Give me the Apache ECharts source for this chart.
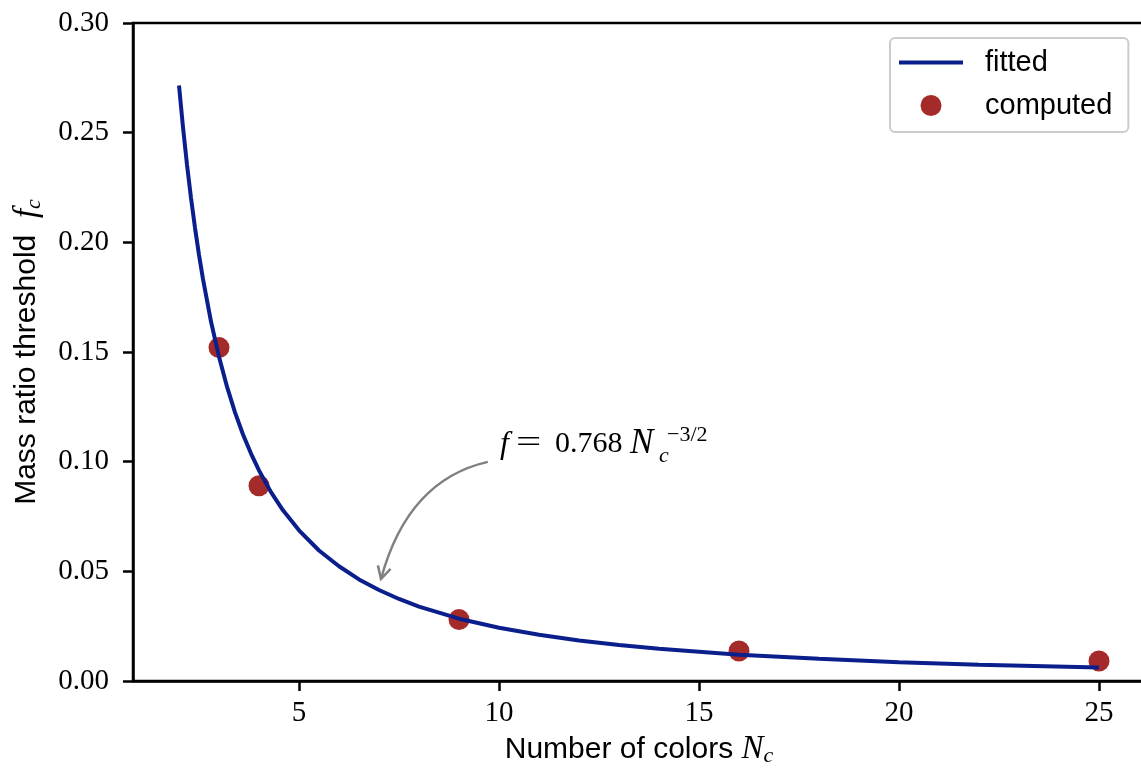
<!DOCTYPE html>
<html>
<head>
<meta charset="utf-8">
<script src="https://cdn.jsdelivr.net/npm/echarts@6.0.0/dist/echarts.min.js"></script>
<style>
    html, body { margin: 0; padding: 0; background: #fff; }
    #chart { width: 1141px; height: 769px; }
</style>
</head>
<body>
<div id="chart"></div>
<script>
// fitted curve
const fitN = [2, 2.1, 2.2, 2.3, 2.4, 2.5, 2.6, 2.8, 3, 3.2, 3.4, 3.6, 3.8, 4, 4.3, 4.6, 5, 5.5, 6, 6.5, 7, 7.5,
    8, 9, 10, 11, 12, 13, 14, 16, 18, 20, 22, 25];
const fitF = [0.2715, 0.2524, 0.2354, 0.2202, 0.2066, 0.1943, 0.1832, 0.1639, 0.1478, 0.1342, 0.1225, 0.1124,
    0.1037, 0.0960, 0.0861, 0.0778, 0.0687, 0.0595, 0.0523, 0.0463, 0.0415, 0.0374, 0.0339, 0.0284, 0.0243,
    0.0211, 0.0185, 0.0164, 0.0147, 0.0120, 0.0101, 0.0086, 0.0074, 0.0061];

// computed points
const compN = [3, 4, 9, 16, 25];
const compF = [0.152, 0.089, 0.028, 0.0137, 0.0091];

const xTicks = [5, 10, 15, 20, 25];

// annotation, in data coordinates
const annoAt = [10, 0.108];
const arrowFrom = [9.72, 0.0999];
const arrowCtrl = [7.72, 0.0916];
const arrowTip = [7.05, 0.0465];

const serif = 'Liberation Serif';
const sans = 'Liberation Sans';
const navy = '#0b1f8c';

const chart = echarts.init(document.getElementById('chart'), null, { renderer: 'canvas' });

const titleRich = {
    a: { fontFamily: sans, fontSize: 30, color: '#000', lineHeight: 36 },
    b: { fontFamily: serif, fontStyle: 'italic', fontSize: 33, color: '#000', lineHeight: 36 },
    c: { fontFamily: serif, fontStyle: 'italic', fontSize: 22, color: '#000', lineHeight: 20, verticalAlign: 'bottom' }
};

const option = {
    animation: false,
    backgroundColor: '#fff',
    grid: {
        left: 133, top: 23, width: 1012, height: 658,
        outerBoundsMode: 'none', containLabel: false,
        show: true, borderColor: '#000', borderWidth: 2.5, backgroundColor: 'transparent'
    },
    legend: {
        orient: 'vertical', left: 890, top: 38,
        padding: [10, 16, 12, 9],
        itemWidth: 64, itemHeight: 21, itemGap: 14,
        borderColor: '#cccccc', borderWidth: 2, borderRadius: 5,
        backgroundColor: '#fff',
        textStyle: { fontFamily: sans, fontSize: 29, color: '#000', padding: [0, 0, 0, 17] },
        data: [
            { name: 'fitted', icon: 'path://M0,0H64V4H0Z' },
            { name: 'computed', icon: 'circle' }
        ]
    },
    xAxis: {
        type: 'value', min: 0.85, max: 26.15,
        axisLine: { show: true, onZero: false, lineStyle: { color: '#000', width: 2.5 } },
        axisTick: { show: true, customValues: xTicks, length: 10, lineStyle: { color: '#000', width: 2.5 } },
        axisLabel: {
            customValues: xTicks, margin: 18,
            fontFamily: serif, fontSize: 29, color: '#000'
        },
        splitLine: { show: false },
        name: '{a|Number of colors }{b|N}{c|c}',
        nameLocation: 'middle', nameGap: 47,
        nameTextStyle: { rich: titleRich }
    },
    yAxis: {
        type: 'value', min: 0, max: 0.30, interval: 0.05,
        axisLine: { show: true, lineStyle: { color: '#000', width: 2.5 } },
        axisTick: { show: true, length: 10, lineStyle: { color: '#000', width: 2.5 } },
        axisLabel: {
            margin: 24, fontFamily: serif, fontSize: 29, color: '#000',
            formatter: v => v.toFixed(2)
        },
        splitLine: { show: false },
        name: '{a|Mass ratio threshold  }{b|f}{c|c}',
        nameLocation: 'middle', nameGap: 88,
        nameTextStyle: { rich: titleRich }
    },
    series: [
        {
            name: 'computed', type: 'scatter', z: 2,
            symbol: 'circle', symbolSize: 21,
            itemStyle: { color: '#a52a2a', opacity: 1 },
            data: compN.map((n, i) => [n, compF[i]])
        },
        {
            name: 'fitted', type: 'line', z: 3,
            smooth: false, symbol: 'none',
            lineStyle: { color: navy, width: 4 },
            itemStyle: { color: navy },
            data: fitN.map((n, i) => [n, fitF[i]])
        }
    ]
};

chart.setOption(option);

// annotation: label and curved arrow
const px = p => chart.convertToPixel({ gridIndex: 0 }, p);
const a = px(annoAt);
const p0 = px(arrowFrom);
const pc = px(arrowCtrl);
const p2 = px(arrowTip);

// arrow head along the tangent at the tip
const dx = p2[0] - pc[0], dy = p2[1] - pc[1];
const len = Math.sqrt(dx * dx + dy * dy);
const ux = dx / len, uy = dy / len;
const headLen = 14, headAng = 28 * Math.PI / 180;
const wing = s => {
    const c = Math.cos(s * headAng), sn = Math.sin(s * headAng);
    const bx = -(ux * c - uy * sn), by = -(ux * sn + uy * c);
    return [p2[0] + bx * headLen, p2[1] + by * headLen];
};

const grey = '#808080';
const txt = (x, y, text, size, italic, extra) => Object.assign({
    type: 'text', x: x, y: y, silent: true,
    style: {
        text: text, fill: '#000', font: (italic ? 'italic ' : '') + size + 'px "' + serif + '"',
        textAlign: 'left', textVerticalAlign: 'middle'
    }
}, extra || {});

chart.setOption({
    graphic: [
        {
            type: 'bezierCurve', silent: true,
            shape: { x1: p0[0], y1: p0[1], cpx1: pc[0], cpy1: pc[1], x2: p2[0], y2: p2[1] },
            style: { stroke: grey, lineWidth: 2.5, fill: null }
        },
        {
            type: 'polyline', silent: true,
            shape: { points: [wing(1), p2, wing(-1)] },
            style: { stroke: grey, lineWidth: 2.5, fill: null }
        },
        txt(a[0] + 1, a[1], 'f', 32, true),
        txt(a[0] + 17, a[1] - 1, '=', 32, false, { scaleX: 1.4 }),
        txt(a[0] + 56, a[1], '0.768', 30, false),
        txt(a[0] + 131, a[1], 'N', 35, true),
        txt(a[0] + 160, a[1] + 12, 'c', 22, true),
        txt(a[0] + 168, a[1] - 9, '\u22123/2', 22, false)
    ]
});
</script>
</body>
</html>
